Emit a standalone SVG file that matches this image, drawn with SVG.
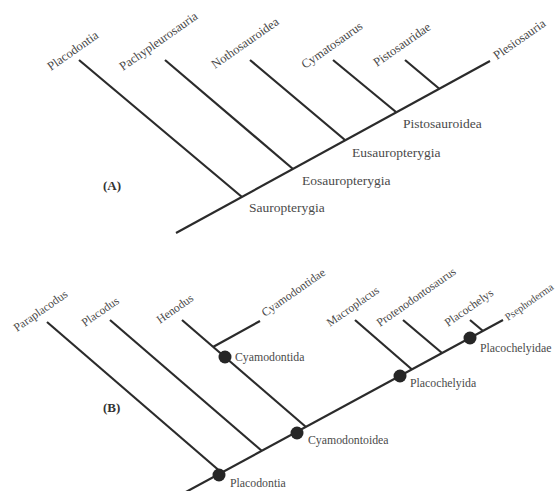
<svg xmlns="http://www.w3.org/2000/svg" width="559" height="491" viewBox="0 0 559 491">
<style>
.br{stroke:#2b2b2b;stroke-width:2.2;fill:none;stroke-linecap:butt}
.t{font-family:"Liberation Serif","Times New Roman",serif;fill:#4a4a4a}
.ta{font-size:12.5px}
.ia{font-size:13.5px}
.tb{font-size:11.8px}
.lab{font-family:"Liberation Serif","Times New Roman",serif;font-size:13px;font-weight:bold;fill:#333}
.dot{fill:#262626}
</style>
<rect width="559" height="491" fill="#fff"/>
<g id="connectors">
  <path class="br" d="M176,233 L490,61"/>
  <path class="br" d="M79,60 L242,197"/>
  <path class="br" d="M165,60 L293,169"/>
  <path class="br" d="M250,60 L345,140"/>
  <path class="br" d="M333,60 L396,112"/>
  <path class="br" d="M405,60 L439,88.5"/>
  <path class="br" d="M184,493 L503,320"/>
  <path class="br" d="M47,322 L222,473"/>
  <path class="br" d="M110,320 L262,451"/>
  <path class="br" d="M182,320 L306,427"/>
  <path class="br" d="M213,347 L260,321"/>
  <path class="br" d="M355,320 L412,369.5"/>
  <path class="br" d="M403,320 L442,353"/>
  <path class="br" d="M470,320 L483,331"/>
</g>
<g id="panelA">
  <text class="lab" x="103" y="190">(A)</text>
  <g id="a-placodontia"><text class="t ta" x="51" y="71" transform="rotate(-35 51 71)">Placodontia</text></g>
  <g id="a-pachypleurosauria"><text class="t ta" x="123" y="71" transform="rotate(-35 123 71)">Pachypleurosauria</text></g>
  <g id="a-nothosauroidea"><text class="t ta" x="215" y="69" transform="rotate(-35 215 69)">Nothosauroidea</text></g>
  <g id="a-cymatosaurus"><text class="t ta" x="305" y="69" transform="rotate(-35 305 69)">Cymatosaurus</text></g>
  <g id="a-pistosauridae"><text class="t ta" x="377" y="67" transform="rotate(-35 377 67)">Pistosauridae</text></g>
  <g id="a-plesiosauria"><text class="t ta" x="497" y="60" transform="rotate(-35 497 60)">Plesiosauria</text></g>
  <g id="a-pistosauroidea"><text class="t ia" x="403" y="128">Pistosauroidea</text></g>
  <g id="a-eusauropterygia"><text class="t ia" x="352" y="157">Eusauropterygia</text></g>
  <g id="a-eosauropterygia"><text class="t ia" x="302" y="185">Eosauropterygia</text></g>
  <g id="a-sauropterygia"><text class="t ia" x="249" y="212">Sauropterygia</text></g>
</g>
<g id="panelB">
  <text class="lab" x="103" y="412">(B)</text>
  <g id="b-paraplacodus"><text class="t tb" x="17" y="332" transform="rotate(-35 17 332)">Paraplacodus</text></g>
  <g id="b-placodus"><text class="t tb" x="85" y="327" transform="rotate(-35 85 327)">Placodus</text></g>
  <g id="b-henodus"><text class="t tb" x="160" y="324" transform="rotate(-35 160 324)">Henodus</text></g>
  <g id="b-cyamodontidae"><text class="t tb" x="265" y="317" transform="rotate(-35 265 317)">Cyamodontidae</text></g>
  <g id="b-macroplacus"><text class="t tb" x="330" y="327" transform="rotate(-35 330 327)">Macroplacus</text></g>
  <g id="b-protenodontosaurus"><text class="t tb" x="380" y="327" transform="rotate(-35 380 327)">Protenodontosaurus</text></g>
  <g id="b-placochelys"><text class="t tb" x="448" y="327" transform="rotate(-35 448 327)">Placochelys</text></g>
  <g id="b-psephoderma"><text class="t" style="font-size:10.5px" x="508" y="321" transform="rotate(-35 508 321)">Psephoderma</text></g>
  <g id="b-cyamodontida"><circle class="dot" cx="225" cy="357" r="6.5"/><text class="t tb" x="235" y="361">Cyamodontida</text></g>
  <g id="b-placodontia"><circle class="dot" cx="219" cy="475" r="6.5"/><text class="t tb" x="230" y="487">Placodontia</text></g>
  <g id="b-cyamodontoidea"><circle class="dot" cx="297" cy="433" r="6.5"/><text class="t tb" x="308" y="444">Cyamodontoidea</text></g>
  <g id="b-placochelyida"><circle class="dot" cx="400" cy="376" r="6.5"/><text class="t tb" x="410" y="387">Placochelyida</text></g>
  <g id="b-placochelyidae"><circle class="dot" cx="470" cy="338" r="6.5"/><text class="t tb" x="480" y="352">Placochelyidae</text></g>
</g>
</svg>
